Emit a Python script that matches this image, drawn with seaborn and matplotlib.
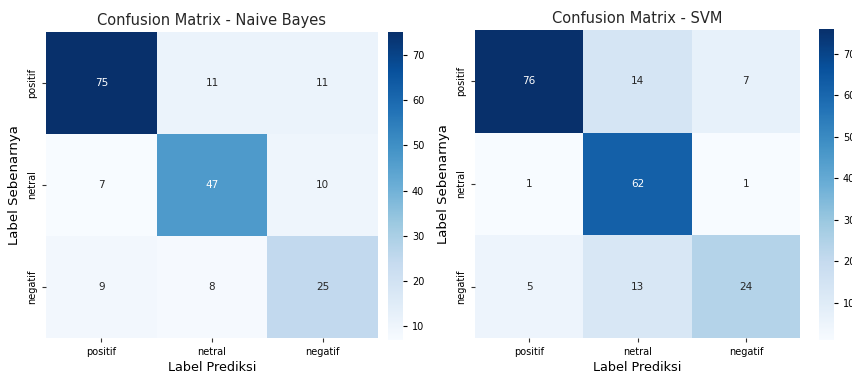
import numpy as np
import pandas as pd
import matplotlib
matplotlib.use("Agg")
import matplotlib.pyplot as plt
import seaborn as sns

labels = ["positif", "netral", "negatif"]

# rows: actual label, columns: predicted label
cm_nb = [
    [75, 11, 11],
    [7, 47, 10],
    [9, 8, 25],
]
cm_svm = [
    [76, 14, 7],
    [1, 62, 1],
    [5, 13, 24],
]

W, H = 853, 373
fig = plt.figure(figsize=(W / 100, H / 100), dpi=100)


def box(x0, y0, x1, y1):
    return [x0 / W, 1 - y1 / H, (x1 - x0) / W, (y1 - y0) / H]


panels = [
    (cm_nb, "Confusion Matrix - Naive Bayes", box(46, 32, 378, 338), box(388, 32, 403, 340)),
    (cm_svm, "Confusion Matrix - SVM", box(475, 30, 800, 338), box(819, 29, 834, 340)),
]

for data, title, ax_box, cb_box in panels:
    ax = fig.add_axes(ax_box)
    cax = fig.add_axes(cb_box)
    df = pd.DataFrame(data, index=labels, columns=labels)
    sns.heatmap(df, annot=True, fmt="d", cmap="Blues", ax=ax, cbar_ax=cax,
                annot_kws={"fontsize": 7.5})
    ax.set_title(title, fontsize=10.5, color="#262626", pad=5)
    ax.set_xlabel("Label Prediksi", fontsize=9.2, labelpad=3)
    ax.set_ylabel("Label Sebenarnya", fontsize=9.5)
    ax.tick_params(axis="both", labelsize=7, length=3, color="#333333")
    ax.set_yticklabels(labels, rotation=90, va="center")
    cax.tick_params(labelsize=7, length=3)
    cax.set_frame_on(False)

fig.savefig("out.png", dpi=100)
